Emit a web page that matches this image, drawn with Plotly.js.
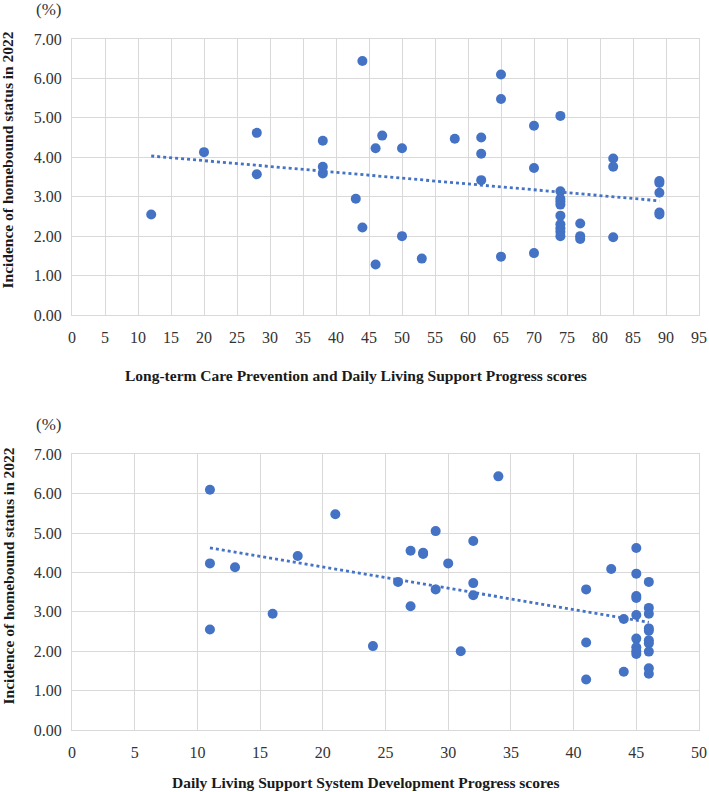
<!DOCTYPE html>
<html>
<head>
<meta charset="utf-8">
<script src="https://cdn.plot.ly/plotly-3.0.1.min.js"></script>
<style>
  html, body { margin: 0; padding: 0; background: #fff; }
  #chart { width: 709px; height: 792px; }
</style>
</head>
<body>
<div id="chart"></div>
<script>
// Panel 1: Long-term Care Prevention and Daily Living Support Progress scores
const careScores = [12, 20, 28, 28, 38, 38, 38, 43, 44, 44, 46, 46, 47, 50, 50, 53, 58,
  62, 62, 62, 65, 65, 65, 70, 70, 70,
  74, 74, 74, 74, 74, 74, 74, 74, 74, 74,
  77, 77, 77, 82, 82, 82, 89, 89, 89, 89, 89];
const careIncidence = [2.55, 4.13, 4.62, 3.57, 4.42, 3.76, 3.59, 2.95, 6.44, 2.22, 4.23, 1.28, 4.55, 4.23, 2.00, 1.43, 4.47,
  4.50, 4.09, 3.42, 6.10, 5.48, 1.48, 4.80, 3.73, 1.57,
  5.05, 3.14, 2.95, 2.88, 2.80, 2.52, 2.30, 2.20, 2.11, 2.00,
  2.32, 2.00, 1.93, 3.97, 3.76, 1.97, 3.40, 3.35, 3.10, 2.60, 2.55];

// Panel 2: Daily Living Support System Development Progress scores
const systemScores = [11, 11, 11, 13, 16, 18, 21, 24, 26, 27, 27, 28, 28, 29, 29, 30, 31,
  32, 32, 32, 34, 41, 41, 41, 43, 44, 44,
  45, 45, 45, 45, 45, 45, 45, 45, 45,
  46, 46, 46, 46, 46, 46, 46, 46, 46, 46];
const systemIncidence = [6.10, 4.23, 2.55, 4.13, 2.95, 4.42, 5.48, 2.13, 3.76, 4.55, 3.14, 4.50, 4.47, 5.05, 3.57, 4.23, 2.00,
  4.80, 3.73, 3.42, 6.44, 3.57, 2.22, 1.28, 4.09, 2.82, 1.48,
  4.62, 3.97, 3.40, 3.35, 2.92, 2.32, 2.10, 2.00, 1.93,
  3.76, 3.10, 2.95, 2.58, 2.52, 2.28, 2.20, 1.99, 1.57, 1.43];

const yTicks = [0, 1, 2, 3, 4, 5, 6, 7];
const careTicks = [0, 5, 10, 15, 20, 25, 30, 35, 40, 45, 50, 55, 60, 65, 70, 75, 80, 85, 90, 95];
const systemTicks = [0, 5, 10, 15, 20, 25, 30, 35, 40, 45, 50];

const yTitle = 'Incidence of homebound status in 2022';
const careTitle = 'Long-term Care Prevention and Daily Living Support Progress scores';
const systemTitle = 'Daily Living Support System Development Progress scores';
const unitLabel = '(%)';

// least-squares linear trend, drawn between the smallest and largest score
function trend(xs, ys) {
  const n = xs.length;
  const mx = xs.reduce((a, b) => a + b, 0) / n;
  const my = ys.reduce((a, b) => a + b, 0) / n;
  let sxy = 0, sxx = 0;
  for (let i = 0; i < n; i++) { sxy += (xs[i] - mx) * (ys[i] - my); sxx += (xs[i] - mx) ** 2; }
  const slope = sxy / sxx, icpt = my - slope * mx;
  const x0 = Math.min(...xs), x1 = Math.max(...xs);
  return { x: [x0, x1], y: [icpt + slope * x0, icpt + slope * x1] };
}

const blue = '#4472C4';
const grid = '#d9d9d9';
const serif = '"Liberation Serif", serif';

const t1 = trend(careScores, careIncidence);
const t2 = trend(systemScores, systemIncidence);

const traces = [
  { x: careScores, y: careIncidence, type: 'scatter', mode: 'markers', xaxis: 'x', yaxis: 'y',
    marker: { color: blue, size: 10 }, hoverinfo: 'x+y' },
  { x: t1.x, y: t1.y, type: 'scatter', mode: 'lines', xaxis: 'x', yaxis: 'y',
    line: { color: blue, width: 2.8, dash: 'dot' }, hoverinfo: 'skip' },
  { x: systemScores, y: systemIncidence, type: 'scatter', mode: 'markers', xaxis: 'x2', yaxis: 'y2',
    marker: { color: blue, size: 10 }, hoverinfo: 'x+y' },
  { x: t2.x, y: t2.y, type: 'scatter', mode: 'lines', xaxis: 'x2', yaxis: 'y2',
    line: { color: blue, width: 2.8, dash: 'dot' }, hoverinfo: 'skip' }
];

const tickFont = { family: serif, size: 16, color: '#333333' };

function xAxis(anchor, ticks) {
  return {
    anchor: anchor, domain: [0, 1],
    range: [ticks[0], ticks[ticks.length - 1]],
    tickvals: ticks, ticktext: ticks.map(String),
    showgrid: true, gridcolor: grid, gridwidth: 1,
    showline: true, linecolor: grid, linewidth: 1, mirror: true,
    zeroline: false, ticks: '', tickfont: tickFont, ticklabelstandoff: 8,
    fixedrange: true
  };
}
function yAxis(anchor, domain) {
  return {
    anchor: anchor, domain: domain,
    range: [0, 7], tickvals: yTicks, ticktext: yTicks.map(v => v.toFixed(2)),
    showgrid: true, gridcolor: grid, gridwidth: 1,
    showline: true, linecolor: grid, linewidth: 1, mirror: true,
    zeroline: false, ticks: '', tickfont: tickFont, ticklabelstandoff: 6,
    fixedrange: true
  };
}

const boldFont = { family: serif, size: 15.5, color: '#1a1a1a', weight: 'bold' };
const ann = (text, x, y, extra) => Object.assign({
  text: text, xref: 'paper', yref: 'paper', x: x, y: y,
  xanchor: 'center', yanchor: 'middle', showarrow: false, font: boldFont
}, extra || {});

const layout = {
  width: 709, height: 792,
  margin: { l: 72, r: 10, t: 39, b: 62 },
  paper_bgcolor: '#fff', plot_bgcolor: '#fff',
  showlegend: false,
  xaxis: xAxis('y', careTicks),
  yaxis: yAxis('x', [0.6006, 1]),
  xaxis2: xAxis('y2', systemTicks),
  yaxis2: yAxis('x2', [0, 0.399]),
  annotations: [
    ann('<b>' + careTitle + '</b>', 0.453, 0.5137),
    ann('<b>' + systemTitle + '</b>', 0.469, -0.0753),
    ann('<b>' + yTitle + '</b>', -0.1013, 0.8249, { textangle: -90 }),
    ann('<b>' + yTitle + '</b>', -0.1013, 0.2229, { textangle: -90 }),
    ann(unitLabel, -0.038, 1.0420, { font: { family: serif, size: 17, color: '#333333' } }),
    ann(unitLabel, -0.038, 0.4415, { font: { family: serif, size: 17, color: '#333333' } })
  ]
};

Plotly.newPlot('chart', traces, layout, { staticPlot: true, displayModeBar: false });
</script>
</body>
</html>
